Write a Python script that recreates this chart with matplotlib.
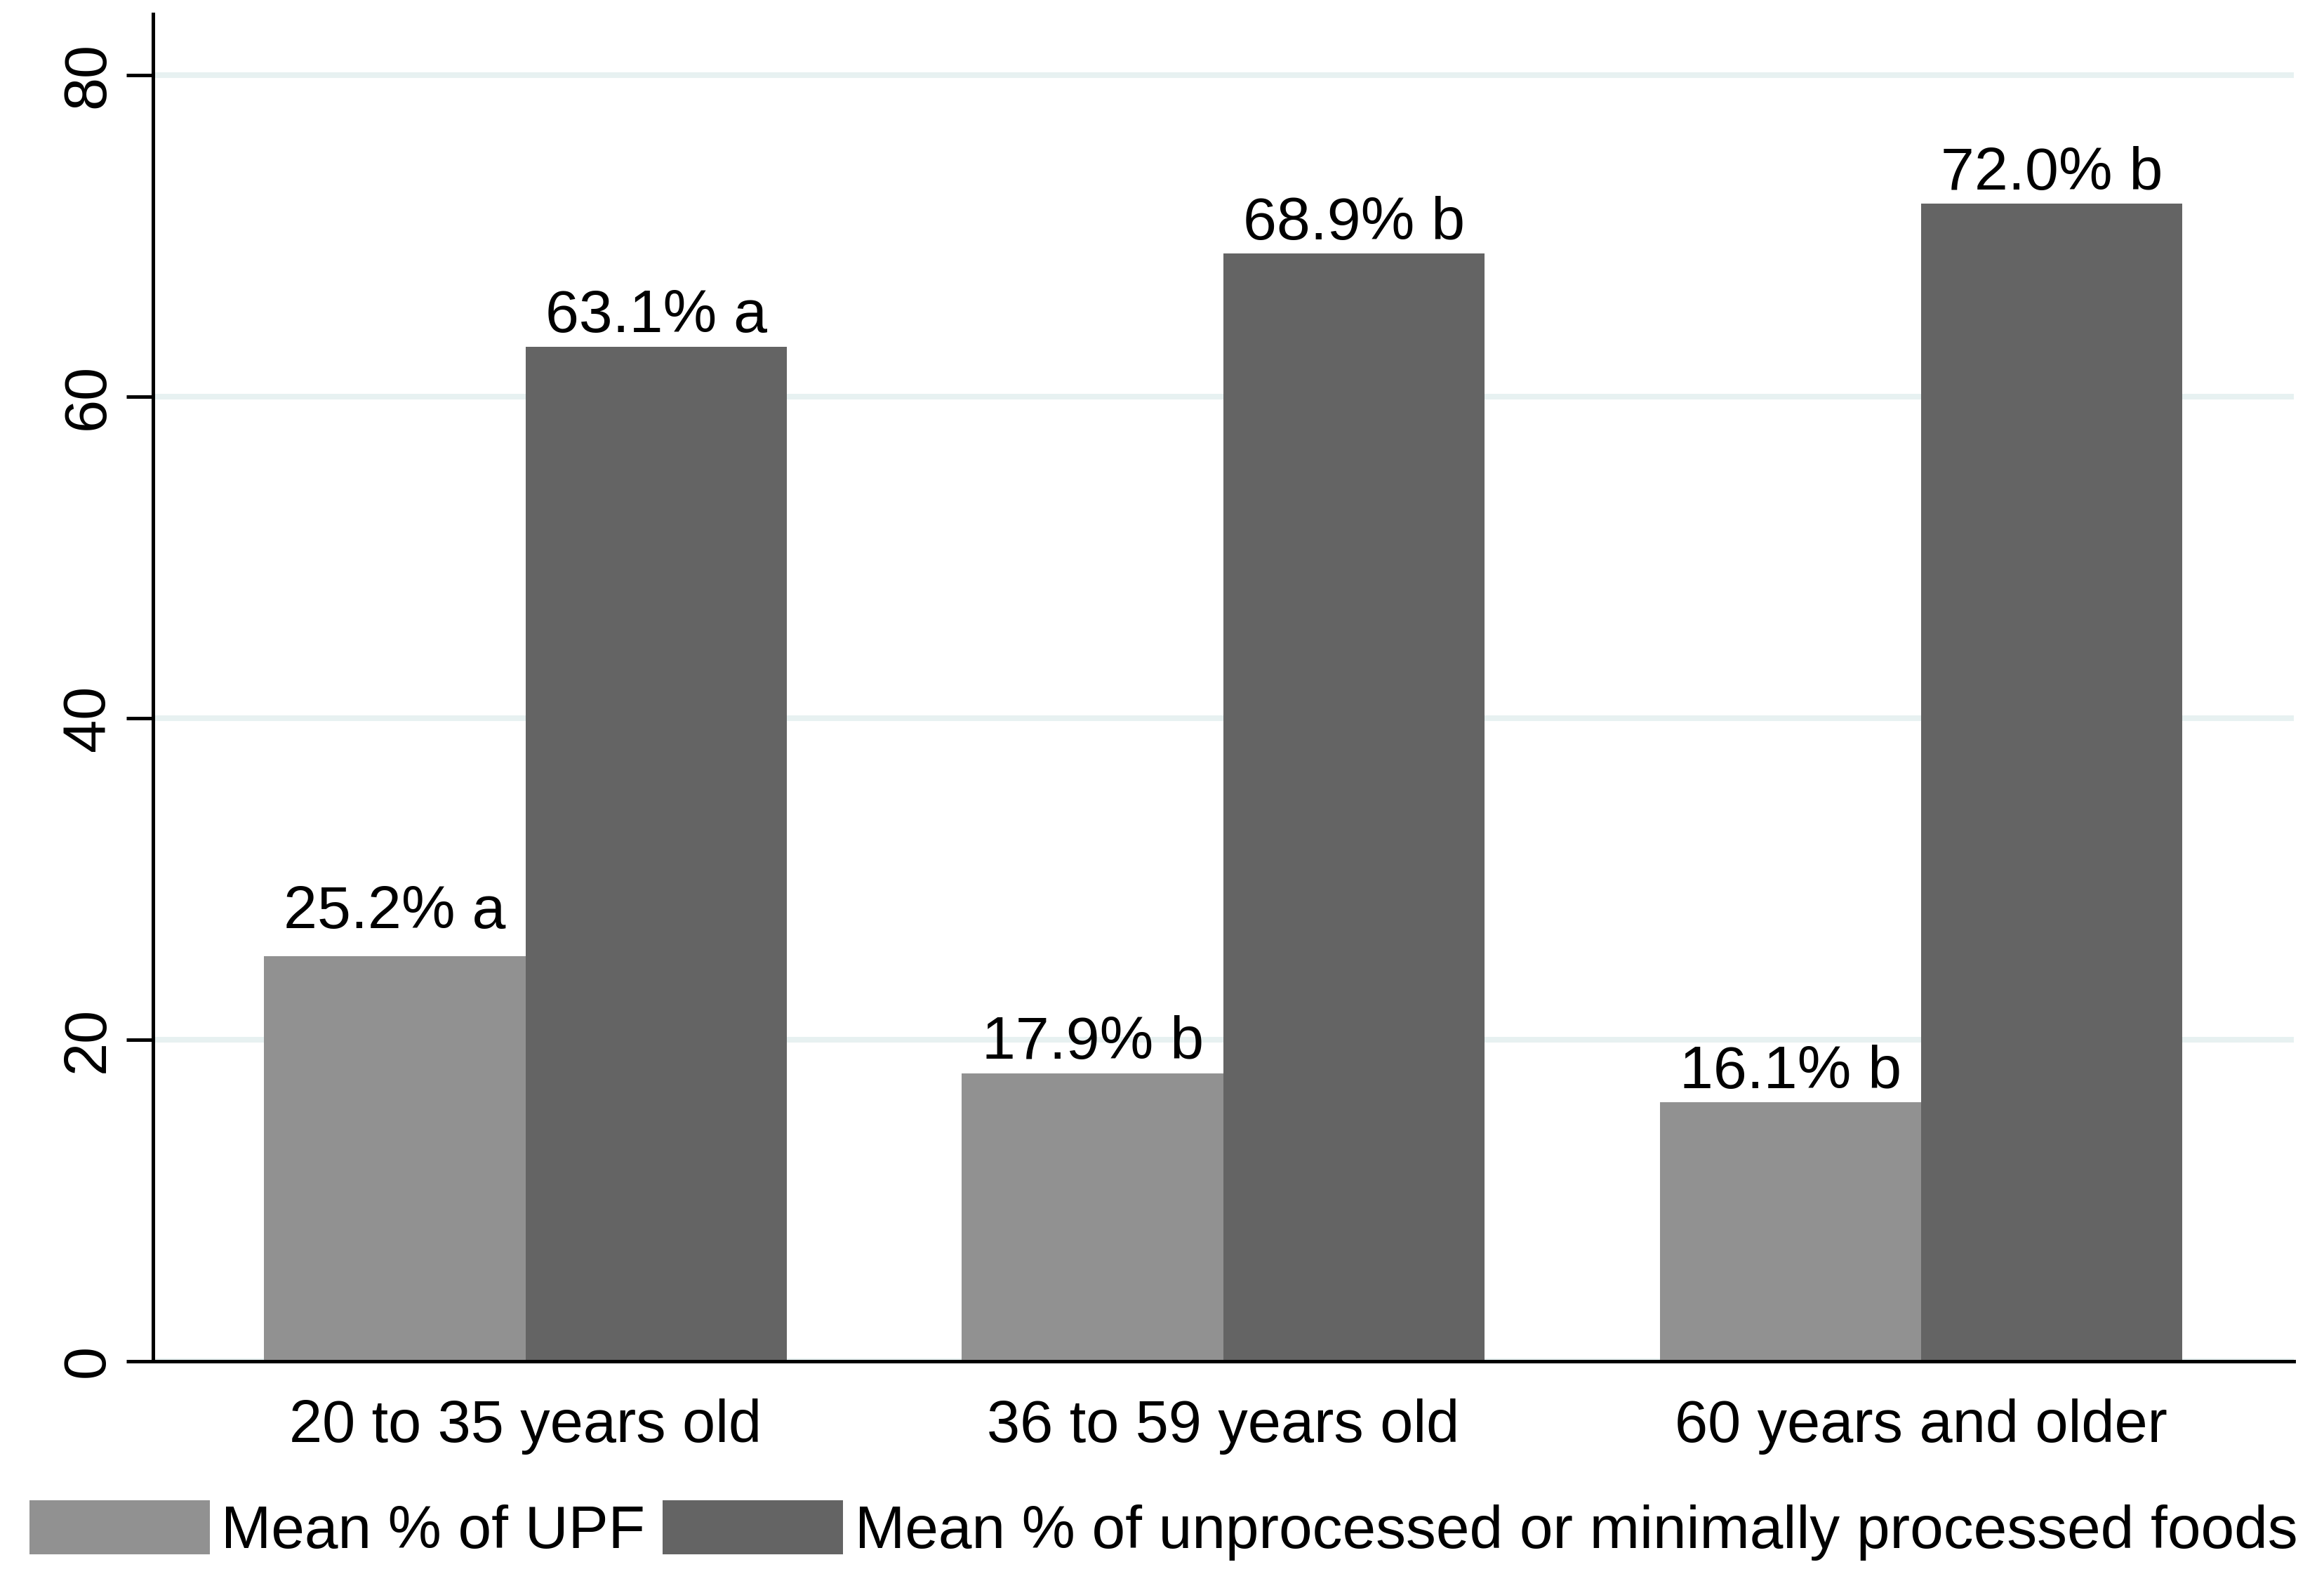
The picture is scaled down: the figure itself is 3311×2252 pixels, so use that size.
import matplotlib.pyplot as plt
import numpy as np

plt.rcParams['font.family'] = ['Liberation Sans', 'DejaVu Sans']

groups = ['20 to 35 years old', '36 to 59 years old', '60 years and older']
upf = [25.2, 17.9, 16.1]
upf_letters = ['a', 'b', 'b']
unproc = [63.1, 68.9, 72.0]
unproc_letters = ['a', 'b', 'b']
series_names = ['Mean % of UPF',
                'Mean % of unprocessed or minimally processed foods']
yticks = [0, 20, 40, 60, 80]

light = '#919191'
dark = '#646464'
grid_color = '#e7f1f1'

fig = plt.figure(figsize=(16.555, 11.26), dpi=200)
ax = fig.add_axes([0.0658, 0.139, 0.9212, 0.852])

x = np.arange(len(groups))
width = 0.3746

b1 = ax.bar(x - width / 2, upf, width=width, color=light, label=series_names[0], zorder=3)
b2 = ax.bar(x + width / 2, unproc, width=width, color=dark, label=series_names[1], zorder=3)

# value labels above bars (first UPF label sits a bit higher in the original)
label_lift = [[8, 1, 1], [1, 1, 1]]
for k, (bars, vals, letters) in enumerate([(b1, upf, upf_letters), (b2, unproc, unproc_letters)]):
    for i, (rect, v, l) in enumerate(zip(bars, vals, letters)):
        ax.annotate(f'{v:.1f}% {l}', (rect.get_x() + rect.get_width() / 2, v),
                    xytext=(0, label_lift[k][i]), textcoords='offset points',
                    ha='center', va='bottom', fontsize=31, zorder=4)

ax.set_xlim(-0.534, 2.534)
ax.set_ylim(0, 83.8)
ax.set_yticks(yticks)
ax.set_xticks(x)
ax.set_xticklabels(groups, fontsize=30.5)
ax.tick_params(axis='x', length=0, pad=19)
ax.tick_params(axis='y', length=13.7, width=1.8, pad=5, labelsize=30.5)
plt.setp(ax.get_yticklabels(), rotation=90, va='center')

ax.yaxis.grid(True, color=grid_color, linewidth=2.9, zorder=0)
ax.set_axisbelow(True)
for s in ['top', 'right']:
    ax.spines[s].set_visible(False)
for s in ['left', 'bottom']:
    ax.spines[s].set_linewidth(1.8)
    ax.spines[s].set_zorder(5)

fig.legend(handles=[b1, b2], labels=series_names, loc='center left',
           bbox_to_anchor=(0.0127, 0.032), ncol=2, frameon=False,
           fontsize=30.85, handlelength=3.0, handleheight=1.0,
           handletextpad=0.19, columnspacing=0.29, borderpad=0, borderaxespad=0)

plt.savefig('out.png', dpi=200)
